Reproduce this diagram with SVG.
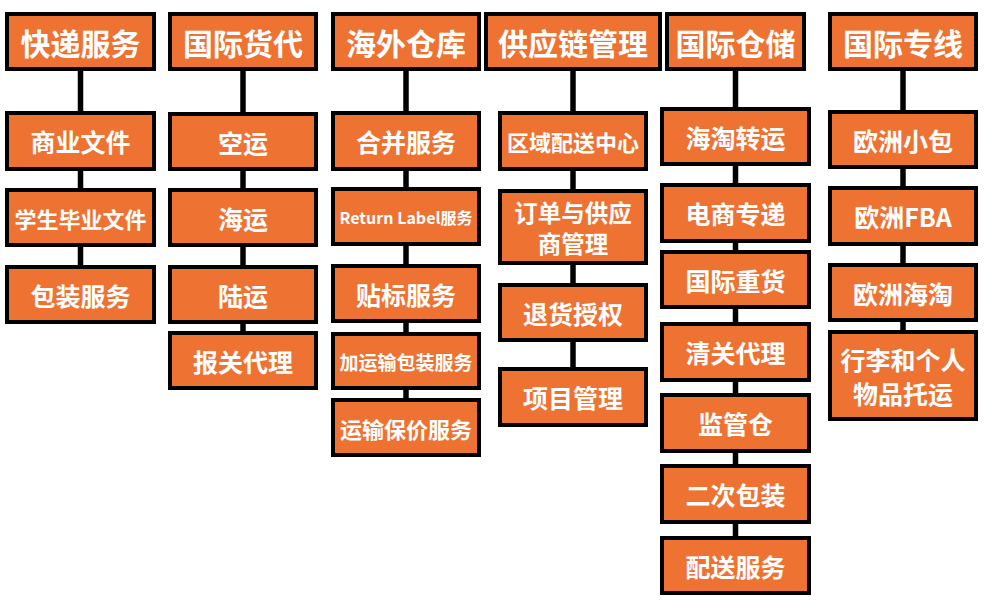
<svg xmlns="http://www.w3.org/2000/svg" width="1000" height="607" viewBox="0 0 1000 607">
<style>
.b rect{fill:#EE7333;stroke:#000;stroke-width:4}
.b text{fill:#fff;font-family:"Noto Sans CJK SC","Noto Sans",sans-serif;font-weight:700;font-size:25px;text-anchor:middle;dominant-baseline:central}
.h text{font-size:30px}
.c line{stroke:#000;stroke-width:5.5}
</style>
<rect width="1000" height="607" fill="#fff"/>
<g id="connectors" class="c">
<line x1="80.5" y1="71" x2="80.5" y2="111"/>
<line x1="80.5" y1="171" x2="80.5" y2="188"/>
<line x1="80.5" y1="247" x2="80.5" y2="265"/>
<line x1="243" y1="71" x2="243" y2="112"/>
<line x1="243" y1="171" x2="243" y2="188"/>
<line x1="243" y1="247" x2="243" y2="265"/>
<line x1="243" y1="324" x2="243" y2="331"/>
<line x1="406" y1="71" x2="406" y2="111"/>
<line x1="406" y1="171" x2="406" y2="187"/>
<line x1="406" y1="246" x2="406" y2="264"/>
<line x1="406" y1="323" x2="406" y2="332"/>
<line x1="406" y1="390" x2="406" y2="398"/>
<line x1="573" y1="71" x2="573" y2="111"/>
<line x1="573" y1="171" x2="573" y2="189"/>
<line x1="573" y1="265" x2="573" y2="283"/>
<line x1="573" y1="342" x2="573" y2="367"/>
<line x1="735.5" y1="71" x2="735.5" y2="107"/>
<line x1="735.5" y1="166" x2="735.5" y2="183"/>
<line x1="735.5" y1="243" x2="735.5" y2="250"/>
<line x1="735.5" y1="309" x2="735.5" y2="322"/>
<line x1="735.5" y1="382" x2="735.5" y2="393"/>
<line x1="735.5" y1="453" x2="735.5" y2="464"/>
<line x1="735.5" y1="524" x2="735.5" y2="536"/>
<line x1="903" y1="71" x2="903" y2="110"/>
<line x1="903" y1="169" x2="903" y2="186"/>
<line x1="903" y1="246" x2="903" y2="263"/>
<line x1="903" y1="322" x2="903" y2="330"/>
</g>
<!-- column 1 -->
<g id="n-kuaidi" class="b h"><rect x="7" y="14" width="147" height="55"/><text x="80.5" y="41.5">快递服务</text></g>
<g id="n-shangye" class="b"><rect x="7" y="113" width="147" height="56"/><text x="80.5" y="141">商业文件</text></g>
<g id="n-xuesheng" class="b"><rect x="7" y="190" width="147" height="55"/><text x="80.5" y="217.5" style="font-size:22px">学生毕业文件</text></g>
<g id="n-baozhuang" class="b"><rect x="7" y="267" width="147" height="55"/><text x="80.5" y="294.5">包装服务</text></g>
<!-- column 2 -->
<g id="n-huodai" class="b h"><rect x="170" y="14" width="146" height="55"/><text x="243" y="41.5">国际货代</text></g>
<g id="n-kongyun" class="b"><rect x="170" y="114" width="146" height="55"/><text x="243" y="141.5">空运</text></g>
<g id="n-haiyun" class="b"><rect x="170" y="190" width="146" height="55"/><text x="243" y="217.5">海运</text></g>
<g id="n-luyun" class="b"><rect x="170" y="267" width="146" height="55"/><text x="243" y="294.5">陆运</text></g>
<g id="n-baoguan" class="b"><rect x="170" y="333" width="146" height="55"/><text x="243" y="360.5">报关代理</text></g>
<!-- column 3 -->
<g id="n-haiwai" class="b h"><rect x="333" y="14" width="146" height="55"/><text x="406" y="41.5">海外仓库</text></g>
<g id="n-hebing" class="b"><rect x="333" y="113" width="146" height="56"/><text x="406" y="141">合并服务</text></g>
<g id="n-return" class="b"><rect x="333" y="189" width="146" height="55"/><text x="406" y="216.5" style="font-size:16px">Return Label服务</text></g>
<g id="n-tiebiao" class="b"><rect x="333" y="266" width="146" height="55"/><text x="406" y="293.5">贴标服务</text></g>
<g id="n-jiayun" class="b"><rect x="333" y="334" width="146" height="54"/><text x="406" y="361" style="font-size:19px">加运输包装服务</text></g>
<g id="n-baojia" class="b"><rect x="333" y="400" width="146" height="55"/><text x="406" y="427.5" style="font-size:22px">运输保价服务</text></g>
<!-- column 4 -->
<g id="n-gongying" class="b h"><rect x="486" y="14" width="174" height="55"/><text x="573" y="41.5">供应链管理</text></g>
<g id="n-quyu" class="b"><rect x="500" y="113" width="146" height="56"/><text x="573" y="141" style="font-size:22px">区域配送中心</text></g>
<g id="n-dingdan" class="b"><rect x="500" y="191" width="146" height="72"/><text x="573" y="211.5" style="font-size:23.5px">订单与供应</text><text x="573" y="243" style="font-size:23.5px">商管理</text></g>
<g id="n-tuihuo" class="b"><rect x="500" y="285" width="146" height="55"/><text x="573" y="312.5">退货授权</text></g>
<g id="n-xiangmu" class="b"><rect x="500" y="369" width="146" height="56"/><text x="573" y="397">项目管理</text></g>
<!-- column 5 -->
<g id="n-cangchu" class="b h"><rect x="667" y="14" width="137" height="55"/><text x="735.5" y="41.5">国际仓储</text></g>
<g id="n-haitao" class="b"><rect x="662" y="109" width="147" height="55"/><text x="735.5" y="136.5">海淘转运</text></g>
<g id="n-dianshang" class="b"><rect x="662" y="185" width="147" height="56"/><text x="735.5" y="213">电商专递</text></g>
<g id="n-zhonghuo" class="b"><rect x="662" y="252" width="147" height="55"/><text x="735.5" y="279.5">国际重货</text></g>
<g id="n-qingguan" class="b"><rect x="662" y="324" width="147" height="56"/><text x="735.5" y="352">清关代理</text></g>
<g id="n-jianguan" class="b"><rect x="662" y="395" width="147" height="56"/><text x="735.5" y="423">监管仓</text></g>
<g id="n-erci" class="b"><rect x="662" y="466" width="147" height="56"/><text x="735.5" y="494">二次包装</text></g>
<g id="n-peisong" class="b"><rect x="662" y="538" width="147" height="55"/><text x="735.5" y="565.5">配送服务</text></g>
<!-- column 6 -->
<g id="n-zhuanxian" class="b h"><rect x="830" y="14" width="146" height="55"/><text x="903" y="41.5">国际专线</text></g>
<g id="n-xiaobao" class="b"><rect x="830" y="112" width="146" height="55"/><text x="903" y="139.5">欧洲小包</text></g>
<g id="n-fba" class="b"><rect x="830" y="188" width="146" height="56"/><text x="903" y="216">欧洲FBA</text></g>
<g id="n-ouzhouhaitao" class="b"><rect x="830" y="265" width="146" height="55"/><text x="903" y="292.5">欧洲海淘</text></g>
<g id="n-xingli" class="b"><rect x="830" y="332" width="146" height="87"/><text x="903" y="359">行李和个人</text><text x="903" y="393">物品托运</text></g>
</svg>
